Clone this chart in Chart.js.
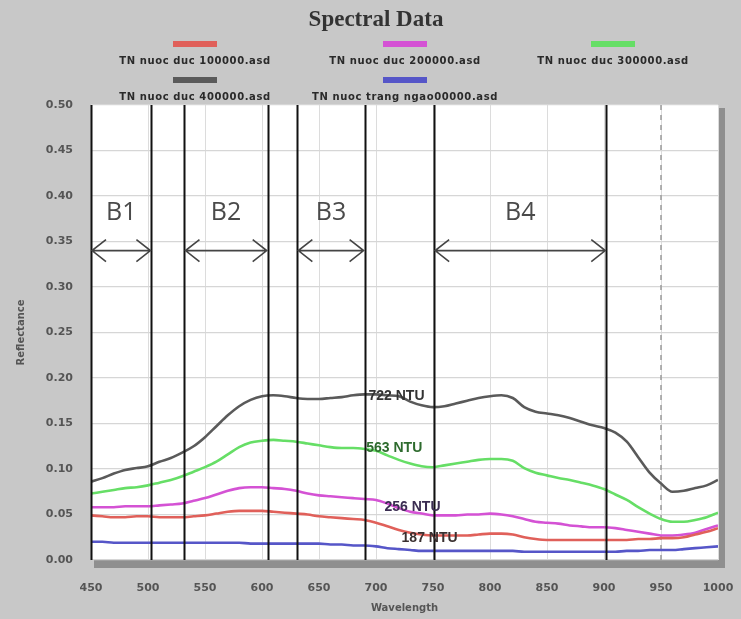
<!DOCTYPE html>
<html>
<head>
<meta charset="utf-8">
<script src="https://cdn.jsdelivr.net/npm/chart.js@4.4.1/dist/chart.umd.min.js"></script>
<style>
  html, body { margin: 0; padding: 0; background: #c8c8c8; }
  #wrap { width: 741px; height: 619px; }
</style>
</head>
<body>
<div id="wrap"><canvas id="spectral" width="741" height="619"></canvas></div>
<script>
// -----------------------------
// Data
// -----------------------------
const wavelengths = [450, 460, 470, 480, 490, 500, 510, 520, 530, 540,
  550, 560, 570, 580, 590, 600, 610, 620, 630, 640,
  650, 660, 670, 680, 690, 700, 710, 720, 730, 740,
  750, 760, 770, 780, 790, 800, 810, 820, 830, 840,
  850, 860, 870, 880, 890, 900, 910, 920, 930, 940,
  950, 960, 970, 980, 990, 1000];

const seriesNames = [
  "TN nuoc duc 100000.asd",
  "TN nuoc duc 200000.asd",
  "TN nuoc duc 300000.asd",
  "TN nuoc duc 400000.asd",
  "TN nuoc trang ngao00000.asd"
];

const red100 = [0.049, 0.048, 0.047, 0.047, 0.048, 0.048, 0.047, 0.047, 0.047, 0.048,
  0.049, 0.051, 0.053, 0.054, 0.054, 0.054, 0.053, 0.052, 0.051, 0.050,
  0.048, 0.047, 0.046, 0.045, 0.044, 0.041, 0.037, 0.033, 0.030, 0.028,
  0.027, 0.027, 0.027, 0.027, 0.028, 0.029, 0.029, 0.028, 0.025, 0.023,
  0.022, 0.022, 0.022, 0.022, 0.022, 0.022, 0.022, 0.022, 0.023, 0.023,
  0.024, 0.024, 0.025, 0.028, 0.031, 0.035];

const magenta200 = [0.058, 0.058, 0.058, 0.059, 0.059, 0.059, 0.060, 0.061, 0.062, 0.065,
  0.068, 0.072, 0.076, 0.079, 0.080, 0.080, 0.079, 0.078, 0.076, 0.073,
  0.071, 0.070, 0.069, 0.068, 0.067, 0.066, 0.062, 0.057, 0.053, 0.051,
  0.049, 0.049, 0.049, 0.050, 0.050, 0.051, 0.050, 0.048, 0.045, 0.042,
  0.041, 0.040, 0.038, 0.037, 0.036, 0.036, 0.035, 0.033, 0.031, 0.029,
  0.027, 0.027, 0.028, 0.030, 0.034, 0.038];

const green300 = [0.073, 0.075, 0.077, 0.079, 0.080, 0.082, 0.085, 0.088, 0.092, 0.097,
  0.102, 0.108, 0.116, 0.124, 0.129, 0.131, 0.132, 0.131, 0.130, 0.128,
  0.126, 0.124, 0.123, 0.123, 0.122, 0.120, 0.115, 0.110, 0.106, 0.103,
  0.102, 0.104, 0.106, 0.108, 0.110, 0.111, 0.111, 0.109, 0.101, 0.096,
  0.093, 0.090, 0.088, 0.085, 0.082, 0.078, 0.072, 0.066, 0.058, 0.051,
  0.045, 0.042, 0.042, 0.044, 0.047, 0.052];

const black400 = [0.086, 0.090, 0.095, 0.099, 0.101, 0.103, 0.108, 0.112, 0.118, 0.125,
  0.135, 0.147, 0.159, 0.169, 0.176, 0.180, 0.181, 0.180, 0.178, 0.177,
  0.177, 0.178, 0.179, 0.181, 0.182, 0.182, 0.181, 0.180, 0.174, 0.170,
  0.168, 0.169, 0.172, 0.175, 0.178, 0.180, 0.181, 0.178, 0.168, 0.163,
  0.161, 0.159, 0.156, 0.152, 0.148, 0.145, 0.140, 0.130, 0.113, 0.096,
  0.084, 0.075, 0.076, 0.079, 0.082, 0.088];

const blueClear = [0.020, 0.020, 0.019, 0.019, 0.019, 0.019, 0.019, 0.019, 0.019, 0.019,
  0.019, 0.019, 0.019, 0.019, 0.018, 0.018, 0.018, 0.018, 0.018, 0.018,
  0.018, 0.017, 0.017, 0.016, 0.016, 0.015, 0.013, 0.012, 0.011, 0.010,
  0.010, 0.010, 0.010, 0.010, 0.010, 0.010, 0.010, 0.010, 0.009, 0.009,
  0.009, 0.009, 0.009, 0.009, 0.009, 0.009, 0.009, 0.010, 0.010, 0.011,
  0.011, 0.011, 0.012, 0.013, 0.014, 0.015];

const xTicks = [450, 500, 550, 600, 650, 700, 750, 800, 850, 900, 950, 1000];
const yTicks = [0.00, 0.05, 0.10, 0.15, 0.20, 0.25, 0.30, 0.35, 0.40, 0.45, 0.50];

// band boundaries (nm) and labels
const bandEdges = [450, 503, 532, 605, 631, 690, 751, 902];
const bands = [
  { name: "B1", from: 450, to: 503 },
  { name: "B2", from: 532, to: 605 },
  { name: "B3", from: 631, to: 690 },
  { name: "B4", from: 751, to: 902 }
];
const dashedAt = 950;

// turbidity labels: [text, wavelength, reflectance]
const ntuLabels = [
  ["722 NTU", 718, 0.180],
  ["563 NTU", 716, 0.123],
  ["256 NTU", 732, 0.058],
  ["187 NTU", 747, 0.024]
];

// -----------------------------
// Helpers
// -----------------------------
function toPoints(vals) {
  return wavelengths.map((w, i) => ({ x: w, y: vals[i] }));
}

function makeSet(label, vals, color) {
  return {
    label: label,
    data: toPoints(vals),
    borderColor: color,
    borderWidth: 2.6,
    pointRadius: 0,
    cubicInterpolationMode: "monotone",
    fill: false
  };
}

// -----------------------------
// Plugin: frame, bands, labels, title, legend
// -----------------------------
const decorPlugin = {
  id: "decor",
  beforeDraw(chart) {
    const { ctx, chartArea: a } = chart;
    ctx.save();
    ctx.fillStyle = "#c8c8c8";
    ctx.fillRect(0, 0, chart.width, chart.height);
    ctx.fillStyle = "#8f8f8f";
    ctx.fillRect(a.left + 3, a.top + 3, a.right - a.left + 4, a.bottom - a.top + 5);
    ctx.fillStyle = "#ffffff";
    ctx.fillRect(a.left, a.top, a.right - a.left, a.bottom - a.top);
    ctx.restore();
  },
  beforeDatasetsDraw(chart) {
    const { ctx, chartArea: a, scales: { x } } = chart;
    ctx.save();
    ctx.strokeStyle = "#9a9a9a";
    ctx.lineWidth = 1.5;
    ctx.setLineDash([5, 5]);
    const px = x.getPixelForValue(dashedAt);
    ctx.beginPath();
    ctx.moveTo(px, a.top);
    ctx.lineTo(px, a.bottom);
    ctx.stroke();
    ctx.restore();
  },
  afterDatasetsDraw(chart) {
    const { ctx, chartArea: a, scales: { x, y } } = chart;
    ctx.save();

    // band boundary lines
    ctx.strokeStyle = "#111111";
    ctx.lineWidth = 2;
    bandEdges.forEach(w => {
      const px = Math.round(x.getPixelForValue(w)) + 0.5;
      ctx.beginPath();
      ctx.moveTo(px, a.top);
      ctx.lineTo(px, a.bottom);
      ctx.stroke();
    });

    // double arrows + band names
    const ay = y.getPixelForValue(0.34);
    const ly = y.getPixelForValue(0.381);
    ctx.strokeStyle = "#444444";
    ctx.lineWidth = 1.6;
    ctx.fillStyle = "#4a4a4a";
    ctx.font = "25px 'Open Sans', sans-serif";
    ctx.textAlign = "center";
    ctx.textBaseline = "middle";
    bands.forEach(b => {
      const x1 = x.getPixelForValue(b.from) + 1;
      const x2 = x.getPixelForValue(b.to) - 1;
      ctx.beginPath();
      ctx.moveTo(x1, ay);
      ctx.lineTo(x2, ay);
      ctx.moveTo(x1 + 14, ay - 11);
      ctx.lineTo(x1, ay);
      ctx.lineTo(x1 + 14, ay + 11);
      ctx.moveTo(x2 - 14, ay - 11);
      ctx.lineTo(x2, ay);
      ctx.lineTo(x2 - 14, ay + 11);
      ctx.stroke();
      ctx.fillText(b.name, (x1 + x2) / 2, ly);
    });

    // NTU labels
    const ntuColors = ["#333333", "#2e6b2e", "#3b2d52", "#3a3030"];
    ctx.font = "bold 14px 'Liberation Sans', sans-serif";
    ntuLabels.forEach((l, i) => {
      ctx.fillStyle = ntuColors[i];
      ctx.fillText(l[0], x.getPixelForValue(l[1]), y.getPixelForValue(l[2]));
    });
    ctx.restore();
  },
  afterDraw(chart) {
    const { ctx } = chart;
    ctx.save();
    ctx.textAlign = "center";
    ctx.textBaseline = "middle";
    ctx.fillStyle = "#333333";
    ctx.font = "bold 23px 'Liberation Serif', serif";
    ctx.fillText("Spectral Data", 376, 20);

    // legend: sample line above text, three columns
    const cols = [195, 405, 613];
    const rows = [[44, 61], [80, 97]];
    ctx.font = "bold 10px 'DejaVu Sans', sans-serif";
    ctx.letterSpacing = "0.6px";
    chart.data.datasets.forEach((ds, i) => {
      const cx = cols[i % 3];
      const [sy, ty] = rows[Math.floor(i / 3)];
      ctx.fillStyle = ds.borderColor;
      ctx.fillRect(cx - 22, sy - 3, 44, 6);
      ctx.fillStyle = "#2a2a2a";
      ctx.fillText(ds.label, cx, ty);
    });
    ctx.restore();
  }
};

// -----------------------------
// Chart
// -----------------------------
const ctx = document.getElementById("spectral").getContext("2d");
new Chart(ctx, {
  type: "line",
  data: {
    datasets: [
      makeSet(seriesNames[0], red100, "#e0605a"),
      makeSet(seriesNames[1], magenta200, "#d452d4"),
      makeSet(seriesNames[2], green300, "#66de66"),
      makeSet(seriesNames[3], black400, "#5a5a5a"),
      makeSet(seriesNames[4], blueClear, "#5656c8")
    ]
  },
  options: {
    responsive: false,
    animation: false,
    devicePixelRatio: 1,
    layout: { padding: { top: 105, right: 23, left: 0, bottom: 0 } },
    plugins: {
      legend: { display: false },
      title: { display: false },
      tooltip: { enabled: false }
    },
    scales: {
      x: {
        type: "linear",
        min: 450,
        max: 1000,
        afterBuildTicks: s => { s.ticks = xTicks.map(v => ({ value: v })); },
        afterFit: s => { s.height = 59; s.paddingLeft = 0; s.paddingRight = 0; },
        border: { display: false },
        grid: { color: "#dcdcdc", lineWidth: 1, drawTicks: false },
        ticks: {
          padding: 22,
          color: "#555555",
          font: { family: "'DejaVu Sans', sans-serif", size: 11, weight: "bold" },
          maxRotation: 0,
          callback: v => String(v)
        },
        title: {
          display: true,
          text: "Wavelength",
          color: "#555555",
          font: { family: "'DejaVu Sans', sans-serif", size: 10, weight: "bold" },
          padding: { top: 0, bottom: 5 }
        }
      },
      y: {
        min: 0,
        max: 0.5,
        afterBuildTicks: s => { s.ticks = yTicks.map(v => ({ value: v })); },
        afterFit: s => { s.width = 91; s.paddingTop = 0; s.paddingBottom = 0; },
        border: { display: false },
        grid: { color: "#d6d6d6", lineWidth: 1.2, drawTicks: false },
        ticks: {
          padding: 18,
          color: "#555555",
          font: { family: "'DejaVu Sans', sans-serif", size: 11, weight: "bold" },
          callback: v => Number(v).toFixed(2)
        },
        title: {
          display: true,
          text: "Reflectance",
          color: "#555555",
          font: { family: "'DejaVu Sans', sans-serif", size: 10, weight: "bold" },
          padding: { top: 15, bottom: 0 }
        }
      }
    }
  },
  plugins: [decorPlugin]
});
</script>
</body>
</html>
